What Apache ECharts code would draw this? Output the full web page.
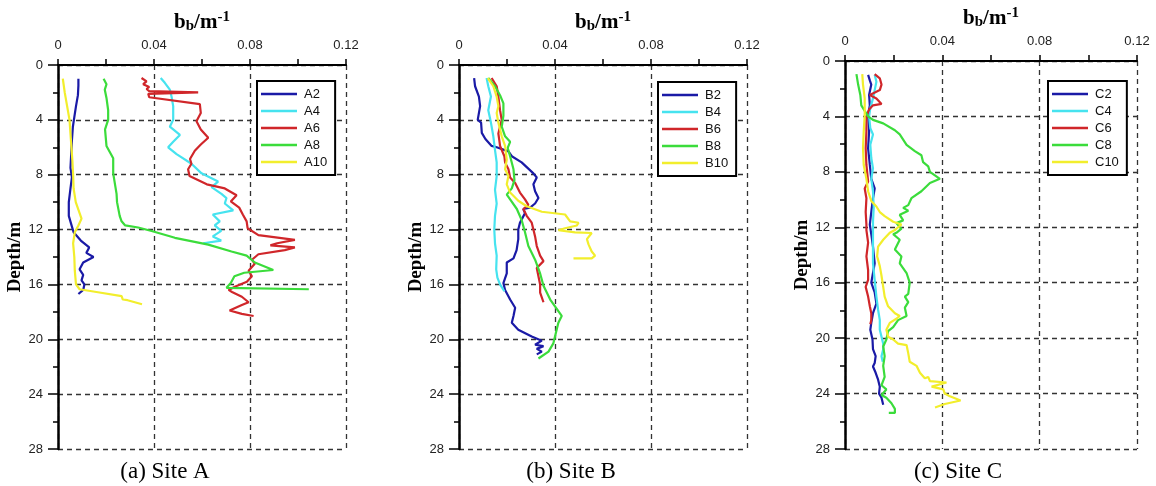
<!DOCTYPE html>
<html><head><meta charset="utf-8">
<script src="https://cdn.jsdelivr.net/npm/echarts@6/dist/echarts.min.js"></script>
<style>html,body{margin:0;padding:0;background:#fff}#c{width:1156px;height:486px}</style>
</head><body><div id="c"></div>
<script>
// ---- data ----
const bbTicks = [0, 0.04, 0.08, 0.12];
const depthTicks = [0, 4, 8, 12, 16, 20, 24, 28];
const captions = ['(a) Site A', '(b) Site B', '(c) Site C'];
const stationsA = ['A2', 'A4', 'A6', 'A8', 'A10'];
const stationsB = ['B2', 'B4', 'B6', 'B8', 'B10'];
const stationsC = ['C2', 'C4', 'C6', 'C8', 'C10'];

// each point: [bb (m^-1), depth (m)]
const A2 = [[0.0085,1],[0.0085,1.5],[0.0083,2.2],[0.0075,3],[0.0068,3.8],[0.0062,4.5],[0.0058,5.5],[0.0055,6.5],[0.0052,7.5],[0.0058,8.2],[0.0052,9],[0.0045,10],[0.0045,11],[0.0055,11.6],[0.0065,12.2],[0.0095,12.8],[0.013,13.3],[0.0118,13.7],[0.0148,14],[0.0105,14.4],[0.009,14.9],[0.0105,15.3],[0.0098,15.7],[0.011,16],[0.0105,16.4],[0.0085,16.7]];
const A4 = [[0.0428,0.95],[0.0445,1.3],[0.0466,1.8],[0.0473,2.3],[0.048,3],[0.048,4],[0.0466,4.5],[0.0508,5.1],[0.048,5.6],[0.0459,6],[0.0494,6.5],[0.0556,7.2],[0.0598,7.9],[0.0667,8.5],[0.064,8.9],[0.0681,9.4],[0.0702,9.7],[0.0695,10.1],[0.073,10.6],[0.0645,10.9],[0.0674,11.4],[0.0653,11.7],[0.068,12.1],[0.0645,12.5],[0.068,12.8],[0.0605,13.0]];
const A6 = [[0.0348,0.95],[0.0369,1.2],[0.0355,1.4],[0.038,1.6],[0.0369,1.75],[0.038,1.9],[0.0584,2.0],[0.0376,2.1],[0.038,2.35],[0.0591,2.85],[0.0595,3.5],[0.0577,4.1],[0.0595,4.7],[0.0626,5.3],[0.0595,5.8],[0.057,6.25],[0.055,6.85],[0.0556,7.2],[0.0542,7.6],[0.0548,8.1],[0.062,8.7],[0.0695,9.0],[0.0744,9.5],[0.072,9.95],[0.0755,10.4],[0.077,10.9],[0.0786,11.4],[0.079,11.9],[0.0835,12.4],[0.0987,12.75],[0.0913,13.0],[0.0885,13.15],[0.0987,13.3],[0.0945,13.5],[0.0835,13.8],[0.0808,14.2],[0.082,14.5],[0.0794,15.0],[0.0808,15.4],[0.0787,15.8],[0.0739,16.15],[0.0711,16.4],[0.0725,16.55],[0.0766,16.9],[0.0794,17.3],[0.0766,17.5],[0.0715,17.9],[0.0766,18.15],[0.0815,18.3]];
const A8 = [[0.019,1],[0.0202,1.4],[0.0195,1.8],[0.0202,2.4],[0.0209,3.3],[0.0209,4],[0.0196,4.7],[0.0202,5.9],[0.023,6.8],[0.023,7.9],[0.0244,9.4],[0.0246,10],[0.0257,11],[0.0265,11.4],[0.028,11.7],[0.0334,11.85],[0.039,12.1],[0.0487,12.6],[0.0626,13.1],[0.0723,13.6],[0.0786,13.9],[0.082,14.4],[0.0897,14.95],[0.0776,15.15],[0.0735,15.4],[0.072,15.9],[0.0702,16.25],[0.1045,16.35]];
const A10 = [[0.002,1],[0.0028,2],[0.0038,3],[0.0048,4],[0.0052,5],[0.0056,6],[0.006,7],[0.0063,8],[0.0065,9],[0.0074,10],[0.0098,11.2],[0.0085,11.7],[0.007,12.2],[0.0063,13],[0.0068,14],[0.007,15],[0.0075,16],[0.009,16.35],[0.016,16.55],[0.0265,16.85],[0.027,17.1],[0.029,17.15],[0.035,17.45]];

const B2 = [[0.0063,0.95],[0.0067,1.55],[0.0083,2.3],[0.0088,3.0],[0.0078,4.0],[0.0092,4.2],[0.0095,4.95],[0.011,5.4],[0.0136,5.9],[0.0157,6.0],[0.0206,6.3],[0.022,6.65],[0.0261,7.1],[0.031,7.9],[0.0324,8.2],[0.031,8.7],[0.0317,9.2],[0.0331,9.7],[0.0317,10.1],[0.0296,10.4],[0.0268,10.5],[0.0275,10.8],[0.0254,11.5],[0.0247,12.0],[0.0247,12.7],[0.024,13.5],[0.0227,14.1],[0.0199,14.4],[0.0199,15.2],[0.0185,15.9],[0.0192,16.4],[0.0213,17.1],[0.0234,17.7],[0.0227,18.3],[0.022,18.8],[0.0247,19.3],[0.0303,19.8],[0.0345,20.1],[0.0317,20.4],[0.0352,20.5],[0.0324,20.7],[0.0345,20.9],[0.0324,21.1]];
const B4 = [[0.0115,0.95],[0.0122,1.55],[0.0133,2.3],[0.0122,3.3],[0.0133,4.2],[0.0143,5.2],[0.015,6.2],[0.0157,7.1],[0.0157,8.1],[0.015,9.1],[0.0157,10.1],[0.015,11.0],[0.0147,12.0],[0.015,13.0],[0.0157,13.9],[0.0155,14.9],[0.016,15.5],[0.0171,16.0],[0.0189,16.5]];
const B6 = [[0.0136,0.95],[0.0157,1.55],[0.0164,2.3],[0.0171,3.3],[0.0178,4.0],[0.0164,5.0],[0.0168,5.5],[0.0171,5.9],[0.0189,6.65],[0.0192,7.1],[0.0206,7.6],[0.0213,8.2],[0.0234,8.6],[0.0254,9.3],[0.0275,9.8],[0.0289,10.2],[0.0268,10.5],[0.0282,11.0],[0.0303,11.5],[0.031,12.0],[0.0317,12.5],[0.0324,13.2],[0.0338,13.9],[0.0352,14.3],[0.0324,14.8],[0.0331,15.4],[0.0338,16.0],[0.0338,16.6],[0.0352,17.3]];
const B8 = [[0.0122,0.95],[0.015,1.55],[0.0171,2.2],[0.0185,2.8],[0.0185,3.7],[0.0178,4.5],[0.0192,5.2],[0.0213,5.6],[0.0203,6.05],[0.0213,6.65],[0.0227,7.6],[0.0231,8.4],[0.022,9.0],[0.0199,9.45],[0.0213,9.8],[0.0241,10.5],[0.0261,11.3],[0.0275,12.2],[0.0289,13.2],[0.0317,14.2],[0.0338,15.2],[0.0352,16.1],[0.038,17.1],[0.0428,18.3],[0.0414,18.8],[0.04,19.8],[0.0393,20.3],[0.0373,20.9],[0.0331,21.4]];
const B10 = [[0.012,0.95],[0.0143,1.55],[0.0157,2.3],[0.0164,3.0],[0.0157,3.5],[0.0164,4.2],[0.0178,5.2],[0.0192,5.9],[0.0199,6.9],[0.0192,7.6],[0.0206,8.1],[0.0199,8.7],[0.0213,9.3],[0.0247,9.9],[0.0282,10.3],[0.0345,10.7],[0.0442,10.9],[0.0463,11.4],[0.0498,11.5],[0.0491,11.7],[0.0442,11.9],[0.0414,12.05],[0.0484,12.2],[0.0553,12.25],[0.0533,12.7],[0.054,13.1],[0.0553,13.6],[0.0567,13.9],[0.0553,14.1],[0.0477,14.1]];

const C2 = [[0.0095,1.0],[0.0102,1.4],[0.0108,1.7],[0.0099,2.45],[0.0102,3.2],[0.0095,3.9],[0.0099,5.1],[0.0095,6.3],[0.0102,7.5],[0.0108,8.5],[0.0122,9.2],[0.0115,9.9],[0.0108,10.9],[0.0102,11.8],[0.0108,12.5],[0.0115,13.4],[0.0122,14.6],[0.0115,15.3],[0.0108,16.0],[0.0122,16.7],[0.0129,17.5],[0.0115,18.2],[0.0108,18.9],[0.0104,19.4],[0.0113,20.1],[0.0115,20.8],[0.0126,21.3],[0.0122,21.8],[0.0115,22.05],[0.0126,22.5],[0.0136,23.0],[0.0143,23.5],[0.014,24.0],[0.015,24.3],[0.0157,24.8]];
const C4 = [[0.0122,1.0],[0.0129,1.5],[0.0122,2.1],[0.0115,2.7],[0.0104,3.4],[0.0099,4.0],[0.0104,4.85],[0.0115,5.3],[0.0104,6.05],[0.0108,7.0],[0.0115,7.75],[0.0108,8.5],[0.0115,9.4],[0.0118,10.6],[0.0115,11.6],[0.0115,12.5],[0.0115,13.4],[0.0115,14.6],[0.0122,15.8],[0.0129,17.0],[0.0136,17.95],[0.0143,18.7],[0.0143,19.4],[0.015,19.9],[0.0157,20.4],[0.0157,20.8],[0.015,21.3],[0.0155,21.7]];
const C6 = [[0.0122,0.95],[0.0143,1.25],[0.015,1.7],[0.0143,2.1],[0.0102,2.45],[0.0129,2.7],[0.015,3.1],[0.0115,3.2],[0.0099,3.5],[0.0088,4.0],[0.0088,5.1],[0.0085,6.3],[0.0088,7.5],[0.0095,8.7],[0.0081,9.2],[0.0088,9.9],[0.0085,10.9],[0.0088,11.8],[0.0088,12.2],[0.0095,13.1],[0.0088,14.1],[0.0095,15.1],[0.0095,15.8],[0.0085,16.3],[0.0095,17.0],[0.0102,17.7],[0.0108,18.2],[0.0108,18.7],[0.0104,19.0]];
const C8 = [[0.0047,0.95],[0.0054,1.7],[0.0063,2.45],[0.0067,3.2],[0.0081,3.6],[0.0095,4.0],[0.0115,4.25],[0.0157,4.5],[0.0205,5.0],[0.0225,5.3],[0.0253,6.05],[0.0287,6.5],[0.0314,6.8],[0.0321,7.3],[0.0342,7.6],[0.0349,8.0],[0.039,8.5],[0.0349,8.8],[0.0314,9.4],[0.0273,9.9],[0.026,10.4],[0.0239,10.6],[0.026,10.8],[0.0225,11.1],[0.0239,11.5],[0.0211,11.7],[0.0232,12.1],[0.0211,12.4],[0.0198,12.5],[0.0225,12.9],[0.0205,13.6],[0.0232,14.1],[0.0225,14.6],[0.0253,15.3],[0.0266,16.0],[0.026,16.8],[0.0246,17.0],[0.026,17.4],[0.0246,17.8],[0.0253,18.4],[0.0218,18.7],[0.0198,19.2],[0.0177,19.5],[0.017,20.1],[0.0157,20.6],[0.0163,21.3],[0.0157,22.0],[0.0163,22.8],[0.015,23.4],[0.017,23.7],[0.015,24.1],[0.017,24.3],[0.0191,24.7],[0.0205,25.1],[0.0205,25.4],[0.018,25.4]];
const C10 = [[0.0071,0.95],[0.0074,1.7],[0.0081,2.7],[0.0081,3.9],[0.0077,5.1],[0.0074,6.3],[0.0077,7.5],[0.0088,8.5],[0.0095,9.4],[0.0108,10.1],[0.0129,10.5],[0.0143,10.9],[0.0163,11.2],[0.0198,11.6],[0.0232,11.8],[0.0218,12.0],[0.0205,12.2],[0.0184,12.4],[0.0157,12.9],[0.0136,13.4],[0.0132,14.1],[0.0143,14.8],[0.015,15.5],[0.0157,16.3],[0.0163,17.0],[0.0177,17.7],[0.0205,18.2],[0.0225,18.4],[0.0211,18.6],[0.0184,18.9],[0.017,19.4],[0.0177,19.9],[0.0198,20.1],[0.0218,20.4],[0.0253,20.5],[0.026,21.1],[0.0266,21.7],[0.0294,22.0],[0.0308,22.5],[0.0328,22.9],[0.0342,22.8],[0.0349,23.1],[0.0417,23.2],[0.0356,23.5],[0.0404,23.7],[0.041,24.0],[0.0431,24.2],[0.0475,24.5],[0.041,24.75],[0.037,25.0]];

// ---- layout / style ----
const colors = ['#1a1aa6', '#46e3ef', '#d0262a', '#3bdc3b', '#f2ee2c'];
const panels = [
  { names: stationsA, data: [A2, A4, A6, A8, A10], grid: {left: 58, top: 65, width: 288, height: 384}, legend: {left: 257, top: 81}, cap: 165 },
  { names: stationsB, data: [B2, B4, B6, B8, B10], grid: {left: 459, top: 65, width: 288, height: 384}, legend: {left: 658, top: 82}, cap: 571 },
  { names: stationsC, data: [C2, C4, C6, C8, C10], grid: {left: 845, top: 61, width: 292, height: 388}, legend: {left: 1048, top: 81}, cap: 958 }
];

const serif = 'Liberation Serif, Times New Roman, serif';
const sans = 'Liberation Sans, Arial, sans-serif';
const dash = { color: '#333', width: 1.3, type: [5, 4] };

const option = { animation: false, backgroundColor: '#fff', grid: [], xAxis: [], yAxis: [], series: [], legend: [], graphic: [] };

panels.forEach((p, i) => {
  option.grid.push(Object.assign({ containLabel: false }, p.grid));
  option.xAxis.push({
    type: 'value', gridIndex: i, position: 'top',
    min: bbTicks[0], max: bbTicks[bbTicks.length - 1], interval: bbTicks[1] - bbTicks[0],
    axisLine: { show: true, onZero: false, lineStyle: { color: '#000', width: 2 } },
    axisTick: { show: true, inside: false, length: 6, lineStyle: { color: '#000', width: 1.5 } },
    minorTick: { show: true, splitNumber: 2, length: 6, lineStyle: { color: '#000', width: 1.5 } },
    splitLine: { show: true, lineStyle: dash },
    axisLabel: { margin: 13, color: '#222', fontFamily: sans, fontSize: 13,
      formatter: v => (v === 0 ? '0' : v.toFixed(2)) },
    name: '{n|b}{s|b}{n|/m}{p|-1}', nameLocation: 'middle', nameGap: 30,
    nameTextStyle: {
      rich: {
        n: { fontFamily: serif, fontWeight: 'bold', fontSize: 21, lineHeight: 24, color: '#000' },
        s: { fontFamily: serif, fontWeight: 'bold', fontSize: 15, lineHeight: 15, color: '#000', verticalAlign: 'bottom' },
        p: { fontFamily: serif, fontWeight: 'bold', fontSize: 15, lineHeight: 15, color: '#000', verticalAlign: 'top' }
      }
    }
  });
  option.yAxis.push({
    type: 'value', gridIndex: i, inverse: true,
    min: depthTicks[0], max: depthTicks[depthTicks.length - 1], interval: depthTicks[1] - depthTicks[0],
    axisLine: { show: true, onZero: false, lineStyle: { color: '#000', width: 2.5 } },
    axisTick: { show: true, inside: false, length: 10, lineStyle: { color: '#000', width: 1.5 } },
    minorTick: { show: true, splitNumber: 2, length: 5, lineStyle: { color: '#000', width: 1.5 } },
    splitLine: { show: true, lineStyle: dash },
    axisLabel: { margin: 15, color: '#222', fontFamily: sans, fontSize: 13 },
    name: 'Depth/m', nameLocation: 'middle', nameGap: 30,
    nameTextStyle: { fontFamily: serif, fontWeight: 'bold', fontSize: 19, color: '#000' }
  });
  p.names.forEach((nm, k) => {
    option.series.push({
      type: 'line', name: nm, xAxisIndex: i, yAxisIndex: i,
      data: p.data[k], symbol: 'none', showSymbol: false, smooth: false,
      color: colors[k], lineStyle: { color: colors[k], width: 2.2 }, z: 3 + k
    });
  });
  option.legend.push({
    data: p.names, orient: 'vertical', left: p.legend.left, top: p.legend.top,
    icon: 'path://M0,0H40V3H0Z',
    padding: [6, 8, 6, 4], itemWidth: 36, itemHeight: 3, itemGap: 3,
    backgroundColor: '#fff', borderColor: '#000', borderWidth: 2, borderRadius: 0,
    selectedMode: false,
    textStyle: { fontFamily: sans, fontSize: 13, lineHeight: 14, color: '#111', padding: [0, 0, 0, 2] }
  });
  option.graphic.push({
    type: 'text', x: p.cap, y: 472,
    style: { text: captions[i], fontFamily: serif, fontSize: 23, fill: '#000', align: 'center', verticalAlign: 'middle' }
  });
});

const chart = echarts.init(document.getElementById('c'), null, { renderer: 'canvas' });
chart.setOption(option);
</script>
</body></html>
